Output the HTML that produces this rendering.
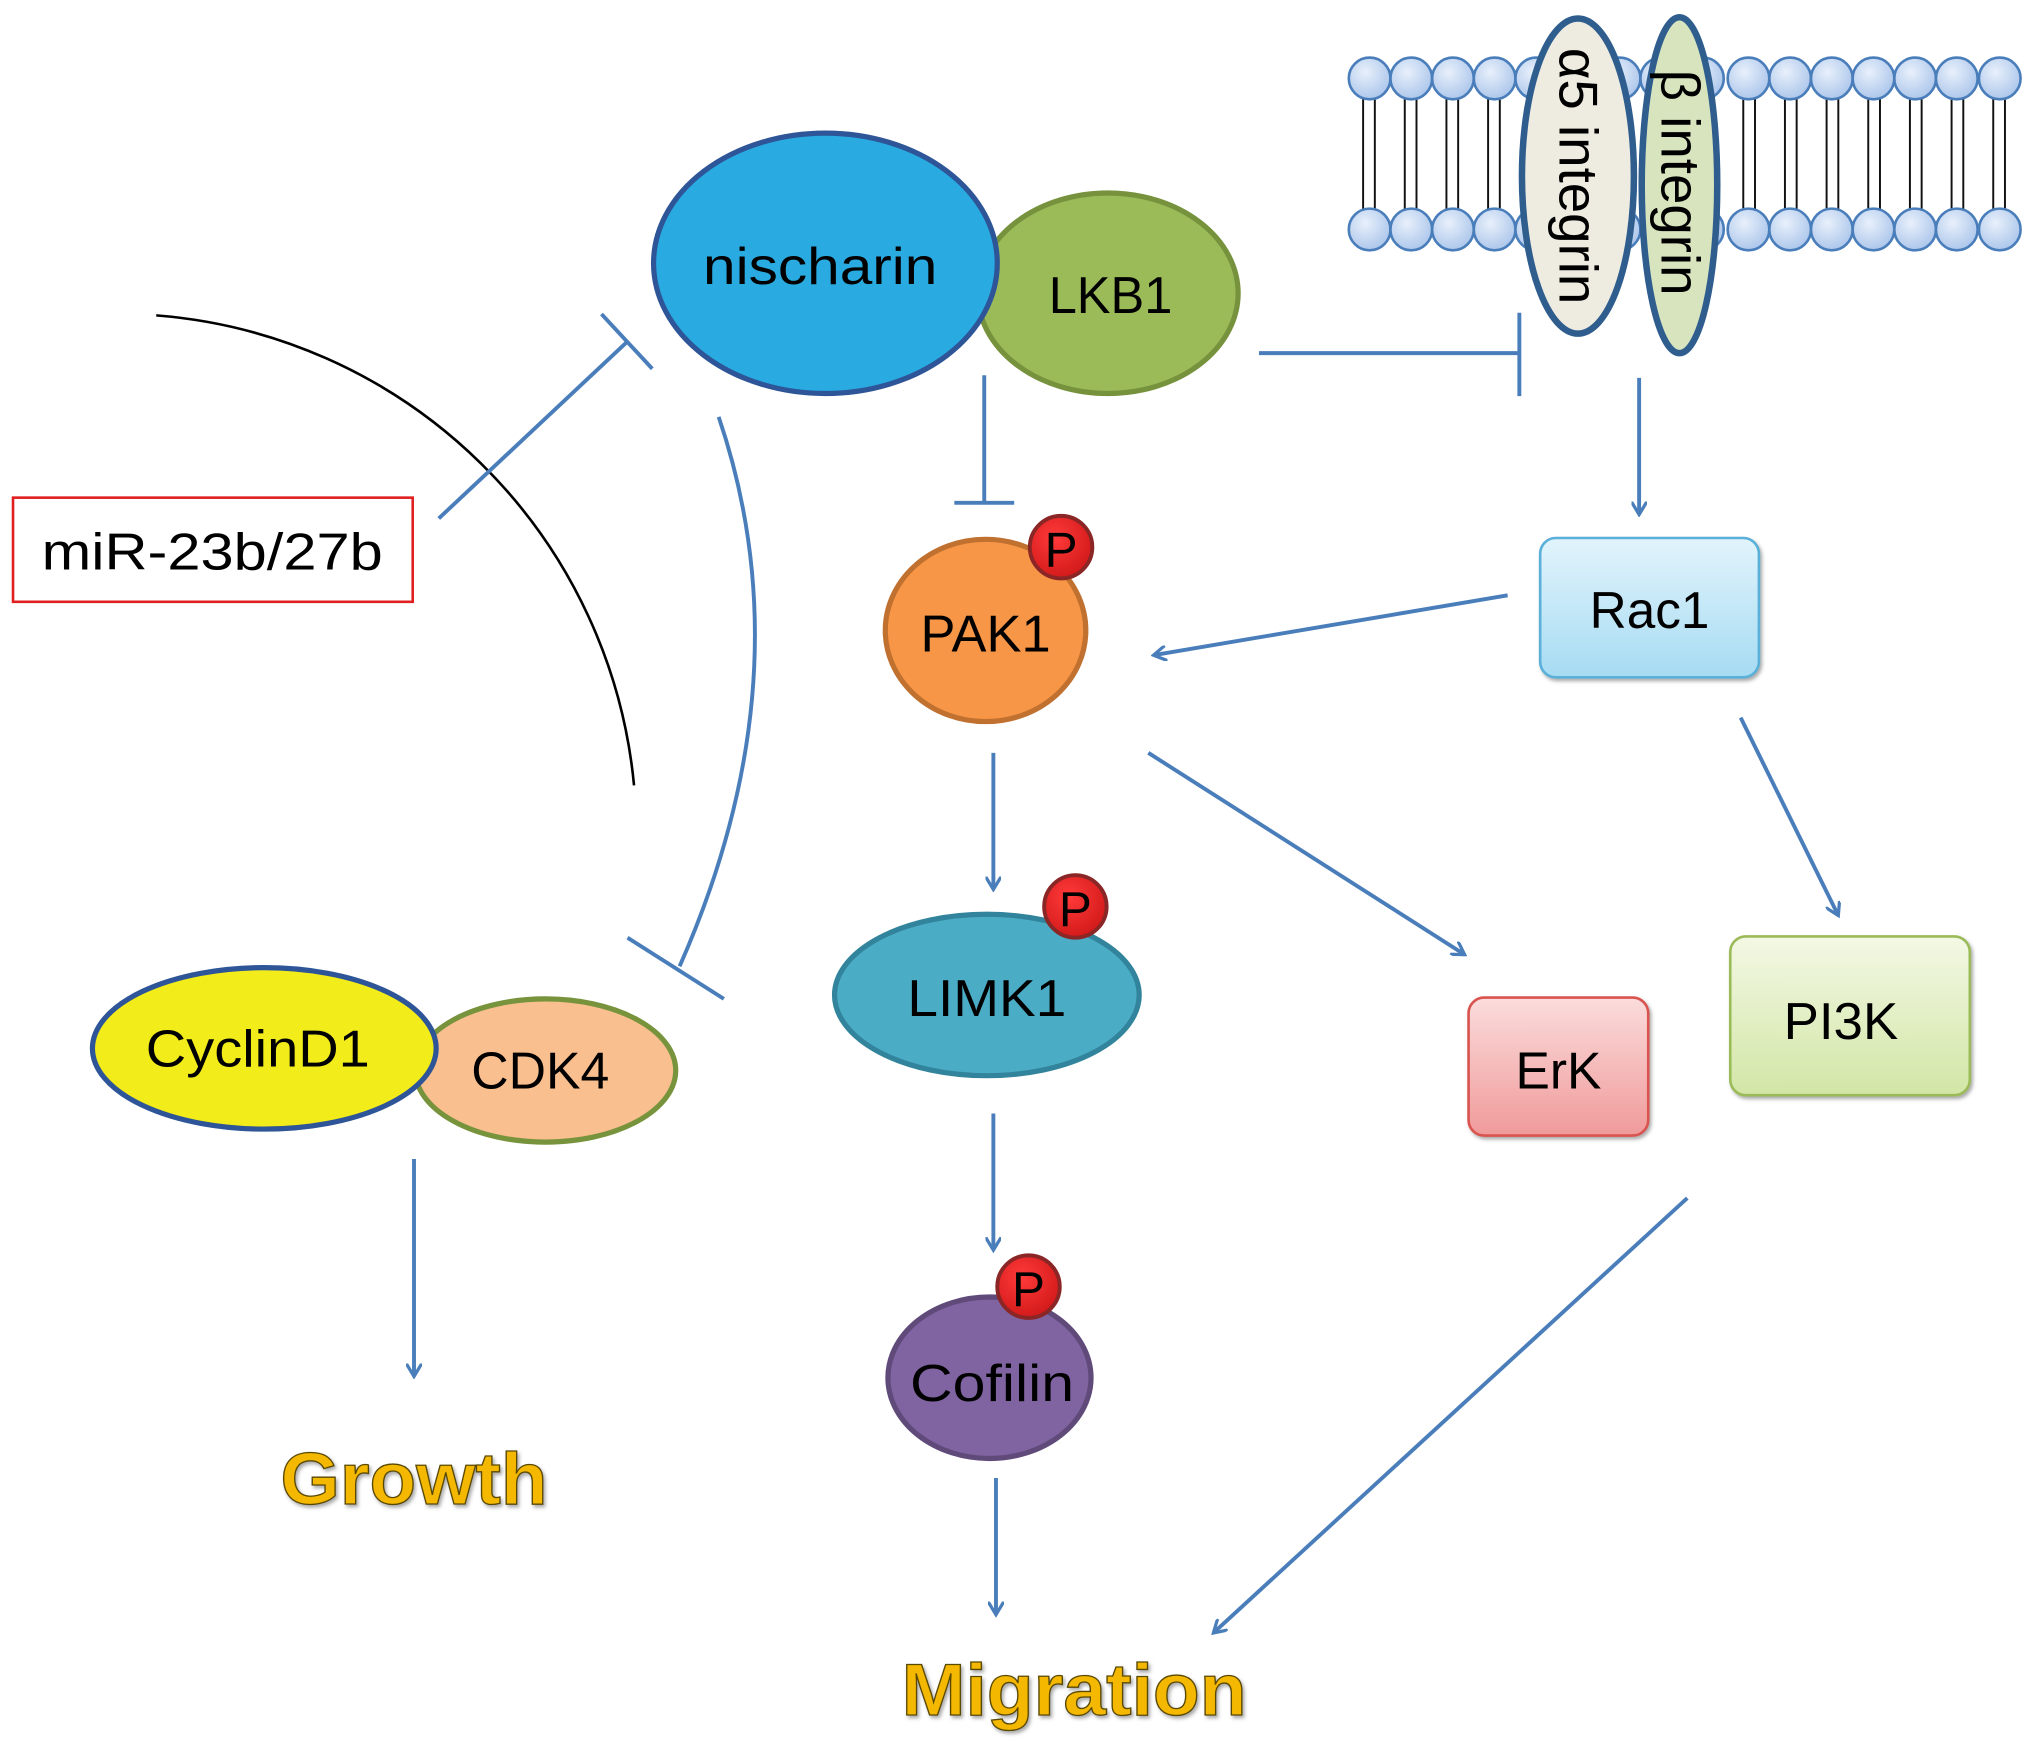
<!DOCTYPE html>
<html><head><meta charset="utf-8"><style>html,body{margin:0;padding:0;background:#fff}svg{display:block}</style></head>
<body>
<svg xmlns="http://www.w3.org/2000/svg" width="2031" height="1740" viewBox="0 0 1560 1336" font-family="'Liberation Sans', sans-serif">
<defs>
<radialGradient id="hd" cx="0.4" cy="0.35" r="0.7"><stop offset="0" stop-color="#e8f0fb"/><stop offset="1" stop-color="#a9c4ea"/></radialGradient>
<linearGradient id="rac" x1="0" y1="0" x2="0" y2="1"><stop offset="0" stop-color="#e2f4fc"/><stop offset="1" stop-color="#a6dbf2"/></linearGradient>
<linearGradient id="erk" x1="0" y1="0" x2="0" y2="1"><stop offset="0" stop-color="#fbdcdc"/><stop offset="1" stop-color="#f09a9a"/></linearGradient>
<linearGradient id="pi3" x1="0" y1="0" x2="0" y2="1"><stop offset="0" stop-color="#f3f8e4"/><stop offset="1" stop-color="#d2e6a6"/></linearGradient>
<radialGradient id="pg" cx="0.4" cy="0.35" r="0.7"><stop offset="0" stop-color="#ff3a3a"/><stop offset="1" stop-color="#d01818"/></radialGradient>
<marker id="ar" markerWidth="12" markerHeight="12" refX="10" refY="6" orient="auto" markerUnits="userSpaceOnUse" viewBox="0 0 12 12">
<path d="M0,0 L10,6 L0,12" fill="none" stroke="#4a7ebb" stroke-width="2.5"/></marker>
<filter id="sh"><feDropShadow dx="1.5" dy="2" stdDeviation="1.5" flood-color="#555" flood-opacity="0.5"/></filter>
</defs>

<!-- membrane -->
<g stroke="#111" stroke-width="1.5">
<g id="tails">
</g>
</g>
<g id="mem"></g>
<script>
</script>
<g stroke="#111" stroke-width="1.5">
<line x1="1047" y1="70" x2="1047" y2="166"/><line x1="1056" y1="70" x2="1056" y2="166"/>
<line x1="1079" y1="70" x2="1079" y2="166"/><line x1="1088" y1="70" x2="1088" y2="166"/>
<line x1="1111" y1="70" x2="1111" y2="166"/><line x1="1120" y1="70" x2="1120" y2="166"/>
<line x1="1143" y1="70" x2="1143" y2="166"/><line x1="1152" y1="70" x2="1152" y2="166"/>
<line x1="1339" y1="70" x2="1339" y2="166"/><line x1="1348" y1="70" x2="1348" y2="166"/>
<line x1="1371" y1="70" x2="1371" y2="166"/><line x1="1380" y1="70" x2="1380" y2="166"/>
<line x1="1403" y1="70" x2="1403" y2="166"/><line x1="1412" y1="70" x2="1412" y2="166"/>
<line x1="1435" y1="70" x2="1435" y2="166"/><line x1="1444" y1="70" x2="1444" y2="166"/>
<line x1="1467" y1="70" x2="1467" y2="166"/><line x1="1476" y1="70" x2="1476" y2="166"/>
<line x1="1499" y1="70" x2="1499" y2="166"/><line x1="1508" y1="70" x2="1508" y2="166"/>
<line x1="1531" y1="70" x2="1531" y2="166"/><line x1="1540" y1="70" x2="1540" y2="166"/>
</g>
<g fill="url(#hd)" stroke="#4a7ebb" stroke-width="2">
<circle cx="1052" cy="60" r="16"/><circle cx="1084" cy="60" r="16"/><circle cx="1116" cy="60" r="16"/><circle cx="1148" cy="60" r="16"/><circle cx="1180" cy="60" r="16"/><circle cx="1212" cy="60" r="16"/><circle cx="1244" cy="60" r="16"/><circle cx="1276" cy="60" r="16"/><circle cx="1308" cy="60" r="16"/><circle cx="1343" cy="60" r="16"/><circle cx="1375" cy="60" r="16"/><circle cx="1407" cy="60" r="16"/><circle cx="1439" cy="60" r="16"/><circle cx="1471" cy="60" r="16"/><circle cx="1503" cy="60" r="16"/><circle cx="1536" cy="60" r="16"/>
<circle cx="1052" cy="176" r="16"/><circle cx="1084" cy="176" r="16"/><circle cx="1116" cy="176" r="16"/><circle cx="1148" cy="176" r="16"/><circle cx="1180" cy="176" r="16"/><circle cx="1212" cy="176" r="16"/><circle cx="1244" cy="176" r="16"/><circle cx="1276" cy="176" r="16"/><circle cx="1308" cy="176" r="16"/><circle cx="1343" cy="176" r="16"/><circle cx="1375" cy="176" r="16"/><circle cx="1407" cy="176" r="16"/><circle cx="1439" cy="176" r="16"/><circle cx="1471" cy="176" r="16"/><circle cx="1503" cy="176" r="16"/><circle cx="1536" cy="176" r="16"/>
</g>
<ellipse cx="1212" cy="135" rx="43" ry="121" fill="#eeebe1" stroke="#2e5d8e" stroke-width="5"/>
<ellipse cx="1290" cy="142" rx="29" ry="129" fill="#d7e4bd" stroke="#2e5d8e" stroke-width="5"/>
<text transform="translate(1198,135) rotate(90)" font-size="42" text-anchor="middle" fill="#000">α5 integrin</text>
<text transform="translate(1276,140) rotate(90)" font-size="42" text-anchor="middle" fill="#000">β integrin</text>

<!-- arc -->
<path d="M120,242 A400,400 0 0 1 487,603" fill="none" stroke="#000" stroke-width="2"/>

<!-- connectors -->
<g stroke="#4a7ebb" stroke-width="3" fill="none">
<line x1="337" y1="398" x2="482" y2="262"/><line x1="462" y1="241" x2="501" y2="283"/>
<path d="M552,320 Q620,520 522,742"/><line x1="482" y1="720" x2="556" y2="767"/>
<line x1="756" y1="288" x2="756" y2="386"/><line x1="733" y1="386" x2="779" y2="386"/>
<line x1="967" y1="271" x2="1167" y2="271"/><line x1="1167" y1="240" x2="1167" y2="304"/>
<line x1="1259" y1="290" x2="1259" y2="395" marker-end="url(#ar)"/>
<line x1="1158" y1="457" x2="886" y2="503" marker-end="url(#ar)"/>
<line x1="763" y1="578" x2="763" y2="683" marker-end="url(#ar)"/>
<line x1="882" y1="578" x2="1125" y2="733" marker-end="url(#ar)"/>
<line x1="1337" y1="551" x2="1412" y2="703" marker-end="url(#ar)"/>
<line x1="318" y1="890" x2="318" y2="1057" marker-end="url(#ar)"/>
<line x1="763" y1="855" x2="763" y2="960" marker-end="url(#ar)"/>
<line x1="765" y1="1135" x2="765" y2="1240" marker-end="url(#ar)"/>
<line x1="1296" y1="920" x2="932" y2="1254" marker-end="url(#ar)"/>
</g>

<!-- miR box -->
<rect x="10" y="382" width="307" height="80" fill="#fff" stroke="#e02020" stroke-width="2"/>
<text x="163" y="437" font-size="40" text-anchor="middle" textLength="262" lengthAdjust="spacingAndGlyphs">miR-23b/27b</text>

<!-- nischarin / LKB1 -->
<ellipse cx="851" cy="225" rx="100" ry="77" fill="#9bbb59" stroke="#76923c" stroke-width="4"/>
<ellipse cx="634" cy="202" rx="132" ry="100" fill="#29abe2" stroke="#2e5597" stroke-width="4"/>
<text x="630" y="218" font-size="40" text-anchor="middle" textLength="180" lengthAdjust="spacingAndGlyphs">nischarin</text>
<text x="853" y="240" font-size="40" text-anchor="middle" textLength="95" lengthAdjust="spacingAndGlyphs">LKB1</text>

<!-- PAK1 -->
<ellipse cx="757" cy="484" rx="77" ry="70" fill="#f79646" stroke="#c0702f" stroke-width="4"/>
<text x="757" y="500" font-size="40" text-anchor="middle" textLength="100" lengthAdjust="spacingAndGlyphs">PAK1</text>
<circle cx="815" cy="420" r="24" fill="url(#pg)" stroke="#8b2626" stroke-width="3"/>
<text x="815" y="435" font-size="38" text-anchor="middle">P</text>

<!-- Rac1 -->
<rect x="1183" y="413" width="168" height="107" rx="12" fill="url(#rac)" stroke="#5ab0d8" stroke-width="2" filter="url(#sh)"/>
<text x="1267" y="482" font-size="40" text-anchor="middle" textLength="92" lengthAdjust="spacingAndGlyphs">Rac1</text>

<!-- LIMK1 -->
<ellipse cx="758" cy="764" rx="117" ry="62" fill="#4bacc6" stroke="#31849b" stroke-width="4"/>
<text x="758" y="780" font-size="40" text-anchor="middle" textLength="122" lengthAdjust="spacingAndGlyphs">LIMK1</text>
<circle cx="826" cy="696" r="24" fill="url(#pg)" stroke="#8b2626" stroke-width="3"/>
<text x="826" y="711" font-size="38" text-anchor="middle">P</text>

<!-- ErK -->
<rect x="1128" y="766" width="138" height="106" rx="12" fill="url(#erk)" stroke="#d9534f" stroke-width="2" filter="url(#sh)"/>
<text x="1197" y="836" font-size="40" text-anchor="middle" textLength="66" lengthAdjust="spacingAndGlyphs">ErK</text>

<!-- PI3K -->
<rect x="1329" y="719" width="184" height="122" rx="12" fill="url(#pi3)" stroke="#9bbb59" stroke-width="2" filter="url(#sh)"/>
<text x="1414" y="798" font-size="40" text-anchor="middle" textLength="88" lengthAdjust="spacingAndGlyphs">PI3K</text>

<!-- CyclinD1 / CDK4 -->
<ellipse cx="419" cy="822" rx="100" ry="55" fill="#f9bf8f" stroke="#77933c" stroke-width="4"/>
<ellipse cx="203" cy="805" rx="132" ry="62" fill="#f2ec1b" stroke="#2e5597" stroke-width="4"/>
<text x="198" y="819" font-size="40" text-anchor="middle" textLength="172" lengthAdjust="spacingAndGlyphs">CyclinD1</text>
<text x="415" y="836" font-size="40" text-anchor="middle" textLength="106" lengthAdjust="spacingAndGlyphs">CDK4</text>

<!-- Cofilin -->
<ellipse cx="760" cy="1058" rx="78" ry="62" fill="#8064a2" stroke="#5f4a7a" stroke-width="4"/>
<text x="762" y="1076" font-size="40" text-anchor="middle" textLength="126" lengthAdjust="spacingAndGlyphs">Cofilin</text>
<circle cx="790" cy="988" r="24" fill="url(#pg)" stroke="#8b2626" stroke-width="3"/>
<text x="790" y="1003" font-size="38" text-anchor="middle">P</text>

<!-- outputs -->
<g font-size="56" font-weight="bold" fill="#f5b800" stroke="#5a4a00" stroke-width="1" filter="url(#sh)" text-anchor="middle">
<text x="318" y="1155" textLength="205" lengthAdjust="spacingAndGlyphs">Growth</text>
<text x="825" y="1317" textLength="265" lengthAdjust="spacingAndGlyphs">Migration</text>
</g>
</svg>
</body></html>
